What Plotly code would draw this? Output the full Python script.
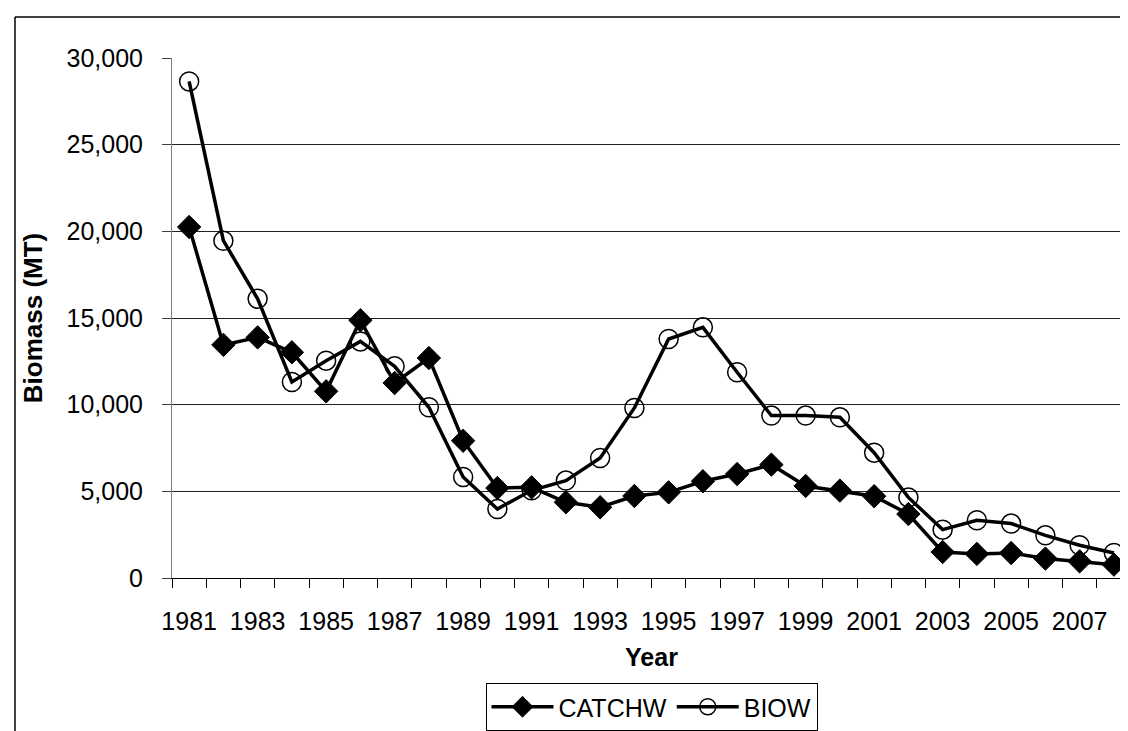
import plotly.graph_objects as go

years = list(range(1981, 2009))
catchw = [20250, 13450, 13880, 13020, 10770, 14870, 11250, 12690, 7920, 5190,
          5230, 4370, 4080, 4730, 4940, 5580, 6000, 6540, 5310, 5040,
          4720, 3690, 1500, 1390, 1440, 1120, 960, 770]
biow = [28650, 19460, 16110, 11310, 12540, 13650, 12210, 9850, 5830, 3980,
        5060, 5620, 6920, 9810, 13790, 14460, 11870, 9370, 9370, 9270,
        7230, 4650, 2790, 3330, 3140, 2460, 1890, 1440]
tick_years = list(range(1981, 2009, 2))
y_ticks = [0, 5000, 10000, 15000, 20000, 25000, 30000]

FONT = "Liberation Sans, Arial, sans-serif"
W, H = 1128, 731
L, R, T, B = 164, 5, 50, 161

fig = go.Figure()
fig.add_trace(go.Scatter(
    x=years, y=catchw, name="CATCHW", mode="lines+markers",
    line=dict(color="black", width=3.5),
    marker=dict(symbol="diamond", size=18, color="black", line=dict(color="black", width=1)),
))
fig.add_trace(go.Scatter(
    x=years, y=biow, name="BIOW", mode="lines+markers",
    line=dict(color="black", width=3.5),
    marker=dict(symbol="circle-open", size=19, color="black", line=dict(color="black", width=1.5)),
))

pw = W - L - R
ph = H - T - B
def px_x(x):
    return (x - L) / pw
def px_y(y):
    return (H - B - y) / ph

fig.update_layout(
    width=W, height=H,
    margin=dict(l=L, r=R, t=T, b=B, pad=0),
    paper_bgcolor="white", plot_bgcolor="white",
    font=dict(family=FONT, size=25, color="black"),
    showlegend=True,
    legend=dict(orientation="h", x=0.5, xanchor="center", y=px_y(675), yanchor="top",
                bordercolor="black", borderwidth=1, font=dict(size=25),
                itemwidth=62, tracegroupgap=0),
    xaxis=dict(
        range=[1980.5, 2008.5], tickmode="array", tickvals=tick_years,
        ticktext=[str(y) for y in tick_years],
        ticks="outside", ticklen=9, tickcolor="rgba(0,0,0,0)",
        ticklabelstandoff=12,
        showline=True, linecolor="black", linewidth=1,
        showgrid=False, zeroline=False,
        minor=dict(ticks="outside", ticklen=9, tickcolor="black", tick0=1980.5, dtick=1, showgrid=False),
        title=dict(text="<b>Year</b>", font=dict(size=25), standoff=14),
        fixedrange=True,
    ),
    yaxis=dict(
        range=[0, 30000], tickmode="array", tickvals=y_ticks,
        ticktext=[f"{v:,}" for v in y_ticks],
        ticks="outside", ticklen=9, tickcolor="#404040",
        ticklabelstandoff=14,
        showline=True, linecolor="#808080", linewidth=1,
        showgrid=True, gridcolor="#202020", gridwidth=1, zeroline=False,
        title=dict(text="<b>Biomass (MT)</b>", font=dict(size=26), standoff=16),
        fixedrange=True,
    ),
    shapes=[
        dict(type="line", xref="paper", yref="paper",
             x0=px_x(7), x1=px_x(1128), y0=px_y(9), y1=px_y(9),
             line=dict(color="black", width=1.5), layer="below"),
        dict(type="line", xref="paper", yref="paper",
             x0=px_x(7), x1=px_x(7), y0=px_y(9), y1=px_y(731),
             line=dict(color="black", width=1.5), layer="below"),
    ],
)

fig.write_html("out.html")
